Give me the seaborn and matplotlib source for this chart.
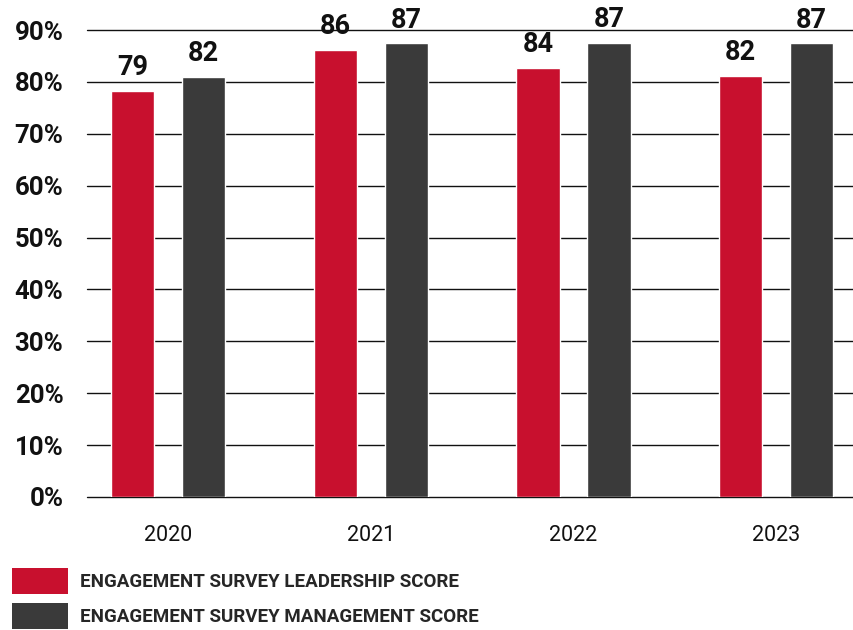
import matplotlib
matplotlib.use("Agg")
import matplotlib.pyplot as plt
from matplotlib.patches import Patch
import seaborn as sns
import pandas as pd

years = ["2020", "2021", "2022", "2023"]
series_names = ["ENGAGEMENT SURVEY LEADERSHIP SCORE", "ENGAGEMENT SURVEY MANAGEMENT SCORE"]
leadership = [78.3, 86.2, 82.7, 81.2]
management = [81.0, 87.4, 87.5, 87.4]
leadership_labels = ["79", "86", "84", "82"]
management_labels = ["82", "87", "87", "87"]
y_ticks = [0, 10, 20, 30, 40, 50, 60, 70, 80, 90]

colors = ["#C8102E", "#3A3A3A"]

sns.set_theme(style="white")
plt.rcParams["font.family"] = ["Roboto", "DejaVu Sans"]

df = pd.DataFrame({
    "year": years * 2,
    "series": [series_names[0]] * 4 + [series_names[1]] * 4,
    "value": leadership + management,
    "label": leadership_labels + management_labels,
})

fig = plt.figure(figsize=(8.54, 6.30), dpi=100)
ax = fig.add_axes([87 / 854, 133 / 630, 1 - 87 / 854, (497 - 30) / 630])

sns.barplot(data=df, x="year", y="value", hue="series", palette=colors,
            width=0.7, gap=0.39, saturation=1, legend=False, ax=ax, zorder=3)

ax.set_ylim(0, 90)
ax.set_xlim(-0.40, 3.384)
ax.set_yticks(y_ticks)
ax.set_yticklabels([f"{t}%" for t in y_ticks], fontsize=18.5, fontweight="bold", color="#111111")
ax.tick_params(axis="y", length=0, pad=17)
ax.tick_params(axis="x", length=0, pad=20, labelsize=15.5, labelcolor="#111111")
for t in y_ticks:
    ax.axhline(t, color="#111111", lw=1.0, zorder=1, clip_on=False)
for s in ax.spines.values():
    s.set_visible(False)
ax.set_xlabel("")
ax.set_ylabel("")

labels_all = [leadership_labels, management_labels]
for cont, labs in zip(ax.containers, labels_all):
    for bar, lab in zip(cont, labs):
        ax.annotate(lab, (bar.get_x() + bar.get_width() / 2, bar.get_height()),
                    xytext=(0, 7), textcoords="offset points",
                    ha="center", va="bottom", fontsize=19.5, fontweight="bold",
                    color="#111111", annotation_clip=False)

handles = [Patch(facecolor=c, edgecolor="none") for c in colors]
fig.legend(handles, series_names, loc="upper left",
           bbox_to_anchor=(12 / 854, 1 - 568 / 630), frameon=False,
           prop={"size": 13.5, "weight": "bold"}, handlelength=3.0, handleheight=1.75,
           handletextpad=0.65, labelspacing=0.5, borderpad=0, borderaxespad=0)

fig.savefig("out.png", dpi=100)
